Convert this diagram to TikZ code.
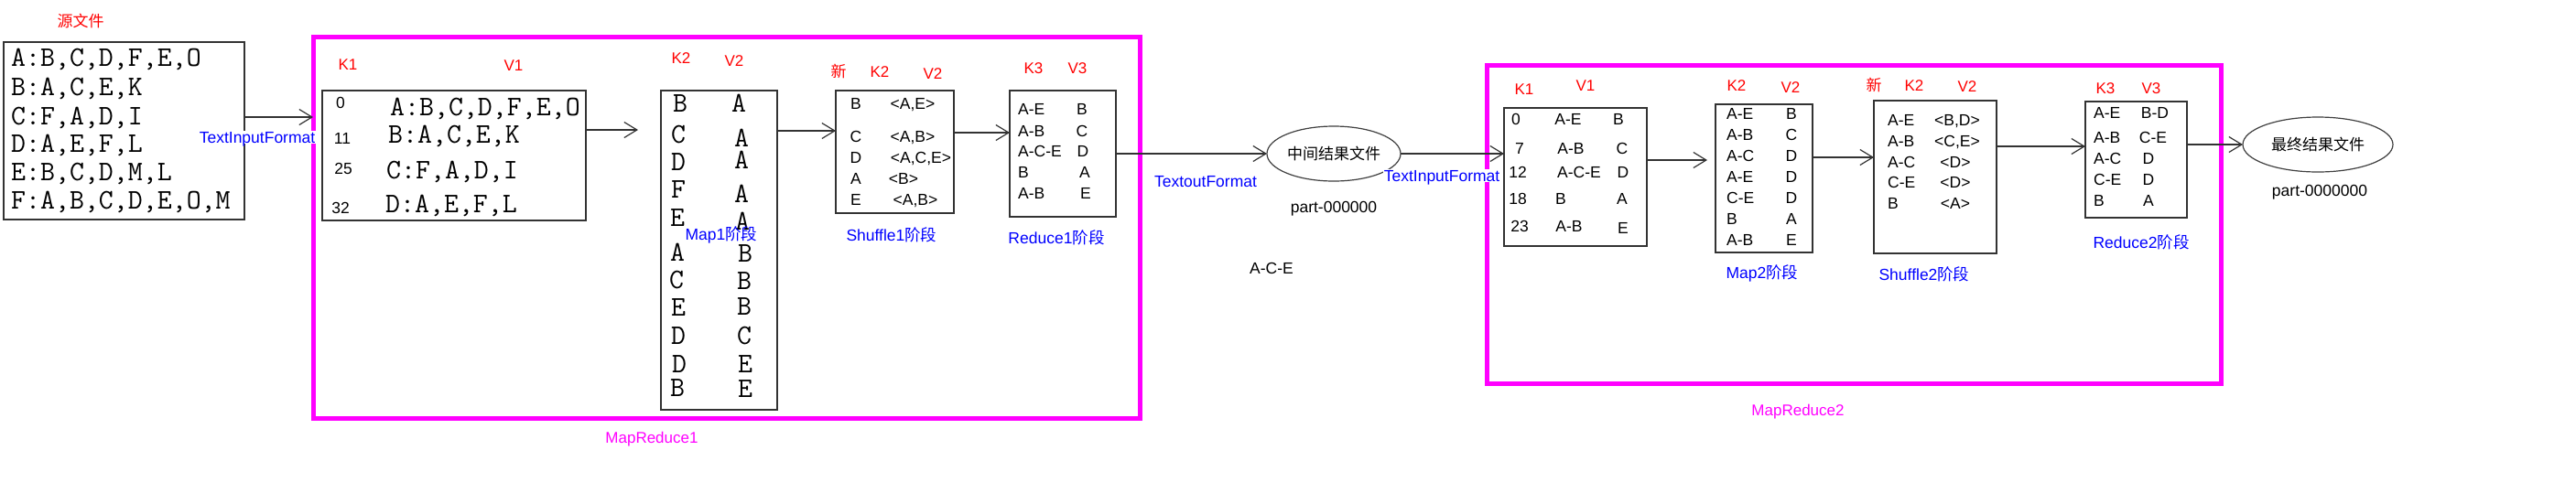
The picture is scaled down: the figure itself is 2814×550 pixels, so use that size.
\documentclass[tikz,border=0pt]{standalone}
\usepackage{fontspec}
\setmainfont{Liberation Sans}
\newfontfamily\cjk{Noto Sans CJK SC}
\usetikzlibrary{arrows.meta,shapes.geometric}
\definecolor{mag}{RGB}{255,0,255}
\definecolor{blu}{RGB}{0,0,255}
\definecolor{rd}{RGB}{255,0,0}
\begin{document}
\begin{tikzpicture}[x=1pt,y=-1pt,
  box/.style={draw=black!80, line width=1.3pt, inner sep=0, outer sep=0},
  mrbox/.style={draw=mag, line width=5pt, inner sep=0, outer sep=0},
  ell/.style={ellipse, draw=black!75, line width=1.2pt, inner sep=0, outer sep=0, font=\fontsize{17}{18}\selectfont\cjk},
  arr/.style={draw=black!80, line width=1.3pt, -{Straight Barb[length=14pt,width=17pt,line width=1.2pt]}},
  key/.style={text=rd, font=\fontsize{17}{17}\selectfont, inner sep=0, text height=12.2pt, text depth=0pt},
  stage/.style={text=blu, font=\fontsize{17.5}{18}\selectfont, inner sep=0, text height=12.5pt, text depth=0pt},
  cell/.style={font=\fontsize{17.5}{18}\selectfont, inner sep=0, text height=12.5pt, text depth=0pt},
  num/.style={font=\fontsize{17.5}{18}\selectfont, inner sep=0, text height=12.5pt, text depth=0pt},
  mono/.style={font=\ttfamily\fontsize{31}{32}\selectfont, inner sep=0, text height=19pt, text depth=0pt},
  mrlbl/.style={text=mag, font=\fontsize{17}{18}\selectfont, inner sep=0, text height=12pt, text depth=0pt},
]
\fill[white] (0,0) rectangle (2814,550);
\useasboundingbox (0,0) rectangle (2814,550);

% frames
\node[mrbox, minimum width=903pt, minimum height=417pt] (mr1) at (793.5,248.5) {};
\node[mrbox, minimum width=802pt, minimum height=348pt] (mr2) at (2025,245) {};
\node[mrlbl] (mrl1) at (712,478) {MapReduce1};
\node[mrlbl] (mrl2) at (1964,448) {MapReduce2};

% source file
\node[key] (lsrc) at (88,23) {\cjk 源文件};
\node[box, minimum width=263pt, minimum height=194pt] (src) at (135.5,143) {};
\foreach \y/\t [count=\i] in {63/{A:B,C,D,F,E,O},95/{B:A,C,E,K},127/{C:F,A,D,I},157/{D:A,E,F,L},188/{E:B,C,D,M,L},219/{F:A,B,C,D,E,O,M}}
  \node[mono, anchor=west] (sl\i) at (12,\y) {\t};

% MR1 input
\node[key] (k11) at (380,70) {K1};
\node[key] (v11) at (561,71) {V1};
\node[box, minimum width=288pt, minimum height=142pt] (b1) at (496,170) {};
\node[num] (n11) at (372,112) {0};
\node[num] (n12) at (374,151) {11};
\node[num] (n13) at (375,184) {25};
\node[num] (n14) at (372,227) {32};
\node[mono, anchor=west] (bl1) at (426,117) {A:B,C,D,F,E,O};
\node[mono, anchor=west] (bl2) at (424,147) {B:A,C,E,K};
\node[mono, anchor=west] (bl3) at (422,186) {C:F,A,D,I};
\node[mono, anchor=west] (bl4) at (421,223) {D:A,E,F,L};

% Map1
\node[key] (k21) at (744,63) {K2};
\node[key] (v21) at (802,66) {V2};
\node[box, minimum width=127pt, minimum height=349pt] (m1) at (785.5,273.5) {};
\foreach \x/\y/\t [count=\i] in {743/113/B,741/147/C,741/177/D,741/207/F,740/238/E,740/276/A,739/306/C,741/336/E,741/367/D,742/398/D,740/424/B}
  \node[mono] (mla\i) at (\x,\y) {\t};
\foreach \x/\y/\t [count=\i] in {807/113/A,810/151/A,810/175/A,810/212/A,811/242/A,814/277/B,813/307/B,813/335/B,813/367/C,814/398/E,814/425/E}
  \node[mono] (mlb\i) at (\x,\y) {\t};
\node[stage] (st1) at (788,256) {Map1\cjk 阶段};

% Shuffle1
\node[key] (x1) at (916,78) {\cjk 新};
\node[key] (k22) at (961,78) {K2};
\node[key] (v22) at (1019,80) {V2};
\node[box, minimum width=129pt, minimum height=134pt] (s1) at (977.5,166) {};
\foreach \y/\t [count=\i] in {113/B,149/C,172/D,195/A,218/E}
  \node[cell] (sa\i) at (935,\y) {\t};
\node[cell] (sb1) at (997,113) {<A,E>};
\node[cell] (sb2) at (997,149) {<A,B>};
\node[cell] (sb3) at (1006,172) {<A,C,E>};
\node[cell] (sb4) at (987,195) {<B>};
\node[cell] (sb5) at (1000,218) {<A,B>};
\node[stage] (st2) at (974,257) {Shuffle1\cjk 阶段};

% Reduce1
\node[key] (k31) at (1129,74) {K3};
\node[key] (v31) at (1177,74) {V3};
\node[box, minimum width=116pt, minimum height=138pt] (r1) at (1161,168) {};
\foreach \y/\t [count=\i] in {119/A-E,143/A-B,165/A-C-E,188/B,211/A-B}
  \node[cell, anchor=west] (ra\i) at (1112,\y) {\t};
\foreach \x/\y/\t [count=\i] in {1182/119/B,1182/143/C,1183/165/D,1185/188/A,1186/211/E}
  \node[cell] (rb\i) at (\x,\y) {\t};
\node[stage] (st3) at (1154,260) {Reduce1\cjk 阶段};

% intermediate file
\node[ell, minimum width=146pt, minimum height=60pt] (e1) at (1457,168) {中间结果文件};
\node[stage] (tof) at (1317,198) {TextoutFormat};
\node[cell] (p1) at (1457,226) {part-000000};
\node[cell] (ace) at (1389,293) {A-C-E};

% MR2 input
\node[key] (k12) at (1665,97) {K1};
\node[key] (v12) at (1732,93) {V1};
\node[box, minimum width=156pt, minimum height=151pt] (b2) at (1721,193.5) {};
\foreach \x/\y/\t [count=\i] in {1656/130/0,1660/162/7,1658/188/12,1658/217/18,1660/247/23}
  \node[num] (n2\i) at (\x,\y) {\t};
\foreach \x/\y/\t [count=\i] in {1713/130/A-E,1716/162/A-B,1725/188/A-C-E,1705/217/B,1714/247/A-B}
  \node[cell] (ba\i) at (\x,\y) {\t};
\foreach \x/\y/\t [count=\i] in {1768/130/B,1772/162/C,1773/188/D,1772/217/A,1773/249/E}
  \node[cell] (bb\i) at (\x,\y) {\t};

% Map2
\node[key] (k23) at (1897,93) {K2};
\node[key] (v23) at (1956,95) {V2};
\node[box, minimum width=106pt, minimum height=162pt] (m2) at (1927,195) {};
\foreach \y/\t [count=\i] in {124/A-E,147/A-B,170/A-C,193/A-E,216/C-E,239/B,262/A-B}
  \node[cell, anchor=west] (ma\i) at (1886,\y) {\t};
\foreach \y/\t [count=\i] in {124/B,147/C,170/D,193/D,216/D,239/A,262/E}
  \node[cell] (mb\i) at (1957,\y) {\t};
\node[stage] (st4) at (1925,298) {Map2\cjk 阶段};

% Shuffle2
\node[key] (x2) at (2047,93) {\cjk 新};
\node[key] (k24) at (2091,93) {K2};
\node[key] (v24) at (2149,94) {V2};
\node[box, minimum width=134pt, minimum height=167pt] (s2) at (2114,193.5) {};
\foreach \y/\t [count=\i] in {131/A-E,154/A-B,177/A-C,199/C-E,222/B}
  \node[cell, anchor=west] (ta\i) at (2062,\y) {\t};
\node[cell] (tb1) at (2138,131) {<B,D>};
\node[cell] (tb2) at (2138,154) {<C,E>};
\node[cell] (tb3) at (2136,177) {<D>};
\node[cell] (tb4) at (2136,199) {<D>};
\node[cell] (tb5) at (2136,222) {<A>};
\node[stage] (st5) at (2102,300) {Shuffle2\cjk 阶段};

% Reduce2
\node[key] (k32) at (2300,96) {K3};
\node[key] (v32) at (2350,96) {V3};
\node[box, minimum width=111pt, minimum height=127pt] (r2) at (2333.5,174.5) {};
\foreach \y/\t [count=\i] in {123/A-E,150/A-B,173/A-C,196/C-E,219/B}
  \node[cell, anchor=west] (ua\i) at (2287,\y) {\t};
\foreach \x/\y/\t [count=\i] in {2354/123/B-D,2352/150/C-E,2347/173/D,2347/196/D,2347/219/A}
  \node[cell] (ub\i) at (\x,\y) {\t};
\node[stage] (st6) at (2339,265) {Reduce2\cjk 阶段};

% final file
\node[ell, minimum width=164pt, minimum height=60pt] (e2) at (2532,158) {最终结果文件};
\node[cell] (p2) at (2534,208) {part-0000000};

% connectors
\coordinate (c2) at (697,142);
\coordinate (c7) at (1865,175);
\draw[arr] (src.east |- 0,128) -- (mr1.west |- 0,128);
\draw[arr] (b1.east |- c2) -- (c2);
\draw[arr] (m1.east |- 0,143) -- (s1.west |- 0,143);
\draw[arr] (s1.east |- 0,145) -- (r1.west |- 0,145);
\draw[arr] (r1.east) -- (e1.west);
\draw[arr] (e1.east) -- (b2.west |- e1.east);
\draw[arr] (b2.east |- c7) -- (c7);
\draw[arr] (m2.east |- 0,172) -- (s2.west |- 0,172);
\draw[arr] (s2.east |- 0,160) -- (r2.west |- 0,160);
\draw[arr] (r2.east |- e2.west) -- (e2.west);

% format labels (over the frames)
\node[stage, fill=white, inner sep=1pt] (tif1) at (281,150) {TextInputFormat};
\node[stage, fill=white, inner sep=1pt] (tif2) at (1575,192) {TextInputFormat};
\end{tikzpicture}
\end{document}
